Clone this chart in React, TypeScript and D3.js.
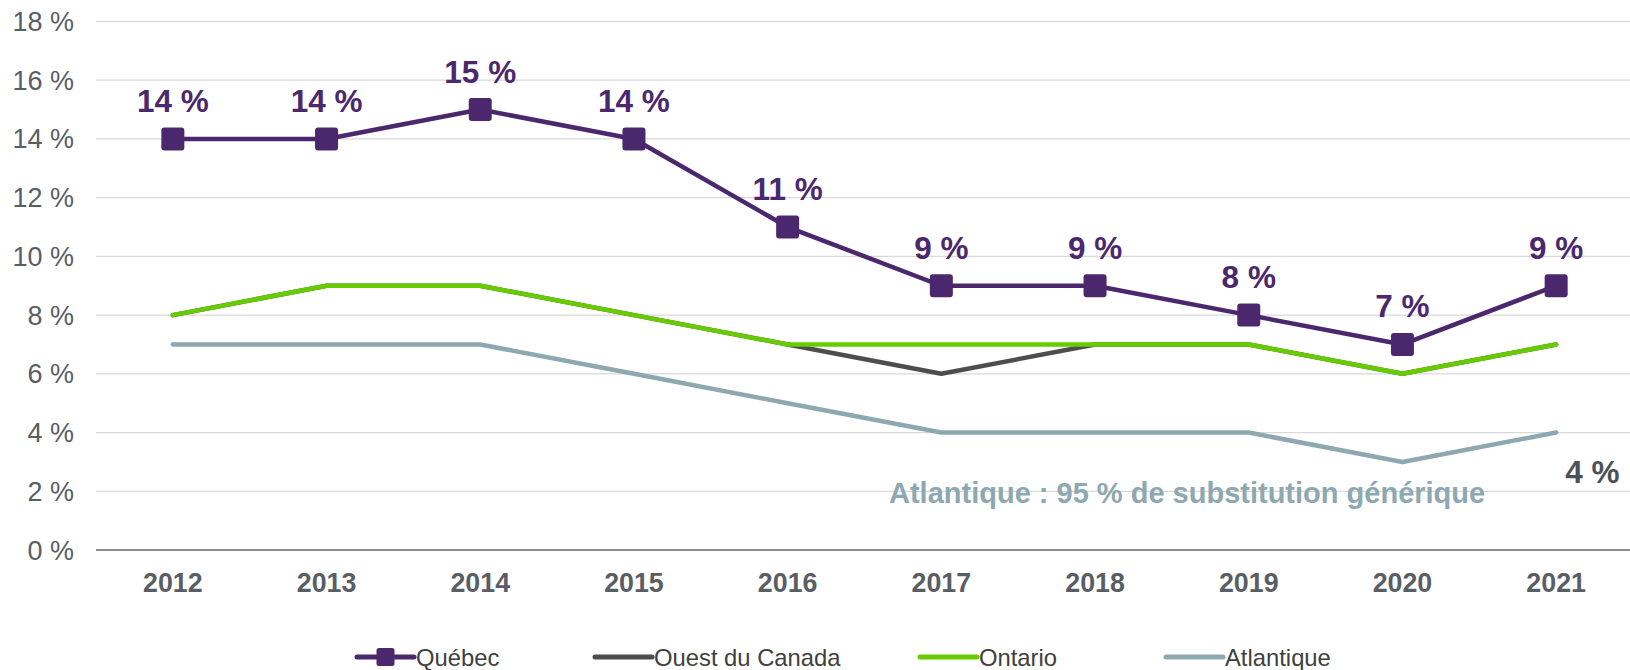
import { useEffect, useRef } from 'react'
import * as d3 from 'd3'

const years = ['2012', '2013', '2014', '2015', '2016', '2017', '2018', '2019', '2020', '2021']
const quebec = [14, 14, 15, 14, 11, 9, 9, 8, 7, 9]
const ouest = [8, 9, 9, 8, 7, 6, 7, 7, 6, 7]
const ontario = [8, 9, 9, 8, 7, 7, 7, 7, 6, 7]
const atlantique = [7, 7, 7, 6, 5, 4, 4, 4, 3, 4]
const yTicks = [0, 2, 4, 6, 8, 10, 12, 14, 16, 18]

const series = [
  { name: 'Québec', values: quebec, color: '#4B286D', width: 4.5 },
  { name: 'Ouest du Canada', values: ouest, color: '#4D4D4D', width: 4.5 },
  { name: 'Ontario', values: ontario, color: '#66CC00', width: 4.5 },
  { name: 'Atlantique', values: atlantique, color: '#8DA8B1', width: 4.5 },
]

const W = 1630
const H = 670
const FONT = 'Liberation Sans, Arial, sans-serif'

const App = () => {
  const svgRef = useRef<SVGSVGElement | null>(null)

  useEffect(() => {
    if (!svgRef.current) return
    const svg = d3.select(svgRef.current)
    svg.selectAll('*').remove()

    const x = d3.scalePoint<string>().domain(years).range([96, 1633]).padding(0.5)
    const y = d3.scaleLinear().domain([0, 18]).range([550, 21.5])

    // gridlines
    svg.append('g')
      .selectAll('line')
      .data(yTicks.filter(t => t > 0))
      .enter()
      .append('line')
      .attr('x1', 96)
      .attr('x2', W)
      .attr('y1', d => y(d))
      .attr('y2', d => y(d))
      .attr('stroke', '#D9D9D9')
      .attr('stroke-width', 1.3)

    // base axis
    svg.append('line')
      .attr('x1', 96).attr('x2', W)
      .attr('y1', y(0)).attr('y2', y(0))
      .attr('stroke', '#8C8C8C')
      .attr('stroke-width', 2)

    // y labels
    svg.append('g')
      .selectAll('text')
      .data(yTicks)
      .enter()
      .append('text')
      .attr('x', 74)
      .attr('y', d => y(d) + 9.5)
      .attr('text-anchor', 'end')
      .attr('font-family', FONT)
      .attr('font-size', 27)
      .attr('fill', '#595E64')
      .text(d => `${d} %`)

    // x labels
    svg.append('g')
      .selectAll('text')
      .data(years)
      .enter()
      .append('text')
      .attr('x', d => x(d)!)
      .attr('y', 592)
      .attr('text-anchor', 'middle')
      .attr('font-family', FONT)
      .attr('font-size', 26.8)
      .attr('font-weight', 'bold')
      .attr('fill', '#595E64')
      .text(d => d)

    const line = d3.line<number>()
      .x((_, i) => x(years[i])!)
      .y(d => y(d))

    // draw Atlantique, Ouest, Ontario, then Québec on top
    const order = [3, 1, 2, 0]
    order.forEach(k => {
      const s = series[k]
      svg.append('path')
        .datum(s.values)
        .attr('d', line)
        .attr('fill', 'none')
        .attr('stroke', s.color)
        .attr('stroke-width', s.width)
        .attr('stroke-linejoin', 'round')
        .attr('stroke-linecap', 'round')
    })

    // Québec markers
    svg.append('g')
      .selectAll('rect')
      .data(quebec)
      .enter()
      .append('rect')
      .attr('x', (_, i) => x(years[i])! - 11.5)
      .attr('y', d => y(d) - 11.5)
      .attr('width', 23)
      .attr('height', 23)
      .attr('rx', 3)
      .attr('fill', series[0].color)

    // Québec value labels
    svg.append('g')
      .selectAll('text')
      .data(quebec)
      .enter()
      .append('text')
      .attr('x', (_, i) => x(years[i])!)
      .attr('y', d => y(d) - 27)
      .attr('text-anchor', 'middle')
      .attr('font-family', FONT)
      .attr('font-size', 31.5)
      .attr('font-weight', 'bold')
      .attr('fill', series[0].color)
      .text(d => `${d} %`)

    // Atlantique last value label
    const last = atlantique.length - 1
    svg.append('text')
      .attr('x', x(years[last])! + 9)
      .attr('y', y(atlantique[last]) + 50)
      .attr('font-family', FONT)
      .attr('font-size', 31.5)
      .attr('font-weight', 'bold')
      .attr('fill', '#4D5157')
      .text(`${atlantique[last]} %`)

    // annotation
    svg.append('text')
      .attr('x', 889)
      .attr('y', 503)
      .attr('font-family', FONT)
      .attr('font-size', 29)
      .attr('font-weight', 'bold')
      .attr('fill', '#8DA8B1')
      .text('Atlantique : 95 % de substitution générique')

    // legend
    const legendX = [357, 595, 920, 1166]
    const ly = 657
    series.forEach((s, i) => {
      const g = svg.append('g').attr('transform', `translate(${legendX[i]},${ly})`)
      g.append('line')
        .attr('x1', 0).attr('x2', 57)
        .attr('y1', 0).attr('y2', 0)
        .attr('stroke', s.color)
        .attr('stroke-width', 5)
        .attr('stroke-linecap', 'round')
      if (i === 0) {
        g.append('rect')
          .attr('x', 28.5 - 9).attr('y', -9)
          .attr('width', 18).attr('height', 18)
          .attr('rx', 2.5)
          .attr('fill', s.color)
      }
      g.append('text')
        .attr('x', 59)
        .attr('y', 8.5)
        .attr('font-family', FONT)
        .attr('font-size', 23.8)
        .attr('fill', '#404040')
        .text(s.name)
    })
  }, [])

  return (
    <svg
      ref={svgRef}
      width={W}
      height={H}
      style={{ position: 'absolute', left: 0, top: 0, background: 'white' }}
    />
  )
}

export default App
